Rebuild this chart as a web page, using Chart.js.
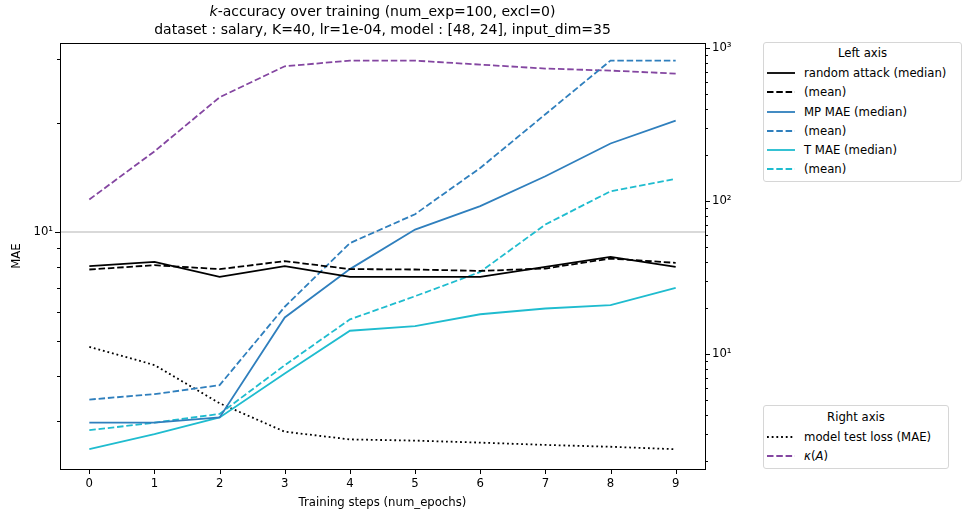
<!DOCTYPE html>
<html>
<head>
<meta charset="utf-8">
<script src="https://cdn.jsdelivr.net/npm/chart.js@4.4.1/dist/chart.umd.min.js"></script>
<style>
  body { margin: 0; background: #fff; font-family: "DejaVu Sans", sans-serif; }
  #wrap { position: relative; width: 964px; height: 517px; }
  #chart { position: absolute; left: 0; top: 0; }
  .legend { position: absolute; left: 763px; border: 1px solid #d6d6d6; border-radius: 3px;
            background: #fff; font-size: 11.7px; color: #000; box-sizing: border-box; }
  .legend .ttl { text-align: center; line-height: 19.3px; }
  .legend .row { display: flex; align-items: center; height: 19.3px; white-space: nowrap; }
  .legend svg { margin-left: 3px; margin-right: 9px; }
</style>
</head>
<body>
<div id="wrap">
  <canvas id="chart" width="964" height="517"></canvas>
  <div class="legend" id="legLeft" style="top:42px;width:199px;height:140px;padding-top:1px;"></div>
  <div class="legend" id="legRight" style="top:405px;width:186px;height:64px;padding-top:2px;"></div>
</div>
<script>
// x values (training epochs)
const epochs = [0, 1, 2, 3, 4, 5, 6, 7, 8, 9];

// left axis (MAE)
const randomMedian = [8.04, 8.26, 7.51, 8.04, 7.51, 7.51, 7.51, 8.00, 8.53, 8.00];
const randomMean   = [7.87, 8.09, 7.89, 8.30, 7.89, 7.87, 7.80, 7.92, 8.44, 8.21];
const mpMedian     = [2.97, 2.97, 3.07, 5.80, 7.89, 10.15, 11.78, 14.25, 17.55, 20.31];
const mpMean       = [3.44, 3.56, 3.77, 6.21, 9.31, 11.19, 15.02, 21.14, 29.75, 29.75];
const tMedian      = [2.51, 2.76, 3.07, 4.06, 5.33, 5.49, 5.92, 6.14, 6.27, 7.00];
const tMean        = [2.83, 2.97, 3.14, 4.28, 5.73, 6.64, 7.75, 10.48, 12.95, 14.01];

// right axis
const testLoss = [11.16, 8.48, 4.77, 3.11, 2.77, 2.72, 2.64, 2.55, 2.48, 2.39];
const kappa    = [102.3, 211, 476, 759, 826, 826, 778, 733, 711, 680];

// axis ticks
const xTicks = [0, 1, 2, 3, 4, 5, 6, 7, 8, 9];
const leftTicks = [3, 4, 5, 6, 7, 8, 9, 10, 20, 30];
const rightTicks = [2, 3, 4, 5, 6, 7, 8, 9, 10, 20, 30, 40, 50, 60, 70, 80, 90,
                    100, 200, 300, 400, 500, 600, 700, 800, 900, 1000];
const refLine = 10; // gray line on left axis

const BLACK = '#000000';
const BLUE = '#2f7fbd';
const CYAN = '#1fbccf';
const PURPLE = '#8446a1';
const DASH = [6.5, 2.8];
const DOT = [1.8, 2.9];

const supers = { 1: '\u00b9', 2: '\u00b2', 3: '\u00b3' };
function logLabel(v) {
  const e = Math.round(Math.log10(v));
  if (Math.abs(Math.pow(10, e) - v) < 1e-9) return '10' + supers[e];
  return '';
}

function pts(ys) { return epochs.map((x, i) => ({ x: x, y: ys[i] })); }

function ds(label, ys, color, dash, axis) {
  return {
    label: label, data: pts(ys), yAxisID: axis,
    borderColor: color, backgroundColor: color, borderWidth: 1.8,
    borderDash: dash, borderCapStyle: 'butt', pointRadius: 0, tension: 0
  };
}

const seriesLeft = [
  { label: 'random attack (median)', data: randomMedian, color: BLACK, dash: [] },
  { label: '(mean)', data: randomMean, color: BLACK, dash: DASH },
  { label: 'MP MAE (median)', data: mpMedian, color: BLUE, dash: [] },
  { label: '(mean)', data: mpMean, color: BLUE, dash: DASH },
  { label: 'T MAE (median)', data: tMedian, color: CYAN, dash: [] },
  { label: '(mean)', data: tMean, color: CYAN, dash: DASH }
];
const seriesRight = [
  { label: 'model test loss (MAE)', data: testLoss, color: BLACK, dash: DOT },
  { label: '<i>\u03ba</i>(<i>A</i>)', data: kappa, color: PURPLE, dash: DASH }
];

const datasets = [];
seriesLeft.forEach(s => datasets.push(ds(s.label, s.data, s.color, s.dash, 'yL')));
seriesRight.forEach(s => datasets.push(ds(s.label, s.data, s.color, s.dash, 'yR')));

// frame, gray reference line, tick marks and the title
const decor = {
  id: 'decor',
  beforeDatasetsDraw(chart) {
    const ctx = chart.ctx, a = chart.chartArea;
    const y = chart.scales.yL.getPixelForValue(refLine);
    ctx.save();
    ctx.strokeStyle = '#cccccc';
    ctx.lineWidth = 1.5;
    ctx.beginPath();
    ctx.moveTo(a.left, y);
    ctx.lineTo(a.right, y);
    ctx.stroke();
    ctx.restore();
  },
  afterDraw(chart) {
    const ctx = chart.ctx, a = chart.chartArea;
    ctx.save();
    ctx.strokeStyle = '#000';
    ctx.lineWidth = 1;
    ctx.strokeRect(a.left + 0.5, a.top + 0.5, a.right - a.left, a.bottom - a.top);
    ctx.beginPath();
    chart.scales.x.ticks.forEach(t => {
      const px = Math.round(chart.scales.x.getPixelForValue(t.value)) + 0.5;
      ctx.moveTo(px, a.bottom); ctx.lineTo(px, a.bottom + 5);
    });
    chart.scales.yL.ticks.forEach(t => {
      const py = Math.round(chart.scales.yL.getPixelForValue(t.value)) + 0.5;
      const len = logLabel(t.value) ? 5 : 3;
      ctx.moveTo(a.left, py); ctx.lineTo(a.left - len, py);
    });
    chart.scales.yR.ticks.forEach(t => {
      const py = Math.round(chart.scales.yR.getPixelForValue(t.value)) + 0.5;
      const len = logLabel(t.value) ? 5 : 3;
      ctx.moveTo(a.right, py); ctx.lineTo(a.right + len, py);
    });
    ctx.stroke();

    // title, with italic k
    const cx = (a.left + a.right) / 2;
    ctx.fillStyle = '#000';
    ctx.textBaseline = 'middle';
    const p1 = 'k', p2 = '-accuracy over training (num_exp=100, excl=0)';
    ctx.font = 'italic 14px "DejaVu Sans"';
    const w1 = ctx.measureText(p1).width;
    ctx.font = '14px "DejaVu Sans"';
    const w2 = ctx.measureText(p2).width;
    let x0 = cx - (w1 + w2) / 2;
    ctx.textAlign = 'left';
    ctx.font = 'italic 14px "DejaVu Sans"';
    ctx.fillText(p1, x0, 12);
    ctx.font = '14px "DejaVu Sans"';
    ctx.fillText(p2, x0 + w1, 12);
    ctx.textAlign = 'center';
    ctx.fillText('dataset : salary, K=40, lr=1e-04, model : [48, 24], input_dim=35', cx, 30);
    ctx.restore();
  }
};

Chart.defaults.font.family = '"DejaVu Sans", sans-serif';
Chart.defaults.font.size = 11.7;
Chart.defaults.color = '#000';

new Chart(document.getElementById('chart'), {
  type: 'line',
  data: { datasets: datasets },
  plugins: [decor],
  options: {
    responsive: false,
    animation: false,
    devicePixelRatio: 1,
    layout: { padding: { top: 43, left: 0, right: 0, bottom: 0 } },
    plugins: { legend: { display: false }, tooltip: { enabled: false }, title: { display: false } },
    scales: {
      x: {
        type: 'linear', min: -0.45, max: 9.45,
        afterBuildTicks: s => { s.ticks = xTicks.map(v => ({ value: v })); },
        afterFit: s => { s.height = 48; },
        ticks: { padding: 8, autoSkip: false, maxRotation: 0, callback: v => String(v) },
        grid: { display: false, drawTicks: false },
        border: { display: false },
        title: { display: true, text: 'Training steps (num_epochs)', padding: { top: 0, bottom: 7 } }
      },
      yL: {
        type: 'logarithmic', position: 'left', min: 2.211, max: 33.27,
        afterBuildTicks: s => { s.ticks = leftTicks.map(v => ({ value: v })); },
        afterFit: s => { s.width = 60; },
        ticks: { padding: 7, autoSkip: false, callback: v => logLabel(v) },
        grid: { display: false, drawTicks: false },
        border: { display: false },
        title: { display: true, text: 'MAE', padding: { top: 10, bottom: 0 } }
      },
      yR: {
        type: 'logarithmic', position: 'right', min: 1.775, max: 1077,
        afterBuildTicks: s => { s.ticks = rightTicks.map(v => ({ value: v })); },
        afterFit: s => { s.width = 259; },
        ticks: { padding: 7, autoSkip: false, callback: v => logLabel(v) },
        grid: { display: false, drawTicks: false },
        border: { display: false }
      }
    }
  }
});

// legends drawn as boxes beside the plot
function legendRow(s) {
  return '<div class="row"><svg width="28" height="6"><line x1="0" y1="3" x2="28" y2="3" stroke="' +
    s.color + '" stroke-width="1.8" stroke-dasharray="' + (s.dash.length ? s.dash.join(' ') : 'none') +
    '"/></svg><span>' + s.label + '</span></div>';
}
document.getElementById('legLeft').innerHTML =
  '<div class="ttl">Left axis</div>' + seriesLeft.map(legendRow).join('');
document.getElementById('legRight').innerHTML =
  '<div class="ttl">Right axis</div>' + seriesRight.map(legendRow).join('');
</script>
</body>
</html>
